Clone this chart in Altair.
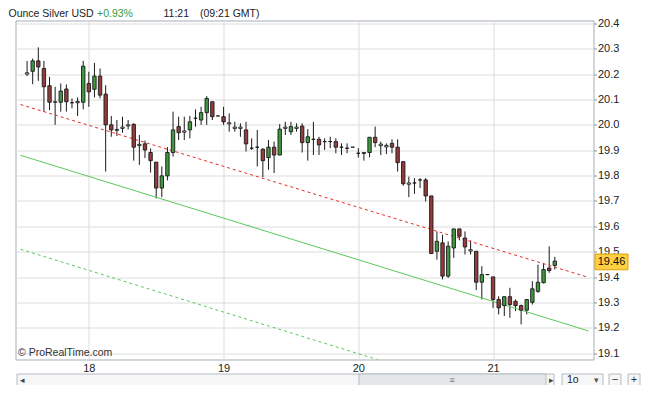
import altair as alt
import pandas as pd

# ---------------- data ----------------
hours = list(range(-11, 84))  # hourly candles, 0 = start of day 18

opens = [20.205, 20.211, 20.252, 20.222, 20.154, 20.091, 20.089, 20.141, 20.087, 20.092,
         20.089, 20.163, 20.140, 20.192, 20.121, 20.000, 19.982, 19.991, 20.000, 20.002,
         19.923, 19.925, 19.891, 19.853, 19.751, 19.799, 19.891, 19.993, 19.976, 19.980,
         20.026, 20.019, 20.048, 20.091, 20.035, 20.032, 20.008, 19.991, 19.991, 19.980,
         19.908, 19.912, 19.904, 19.871, 19.912, 19.881, 19.991, 19.973, 19.991, 19.995,
         19.930, 19.943, 19.943, 19.934, 19.934, 19.934, 19.912, 19.908, 19.912, 19.888,
         19.887, 19.891, 19.951, 19.924, 19.919, 19.927, 19.912, 19.855, 19.771, 19.771,
         19.783, 19.783, 19.720, 19.502, 19.535, 19.404, 19.515, 19.590, 19.554, 19.508,
         19.502, 19.380, 19.410, 19.401, 19.312, 19.288, 19.323, 19.305, 19.288, 19.270,
         19.301, 19.344, 19.378, 19.436, 19.446]
highs = [20.252, 20.261, 20.305, 20.252, 20.189, 20.150, 20.163, 20.159, 20.104, 20.108,
         20.252, 20.209, 20.244, 20.222, 20.156, 20.035, 20.019, 20.032, 20.019, 20.006,
         19.960, 19.938, 19.907, 19.853, 19.836, 19.912, 20.052, 20.032, 20.032, 20.035,
         20.061, 20.071, 20.113, 20.091, 20.035, 20.071, 20.045, 20.012, 20.006, 20.012,
         19.947, 19.980, 19.908, 19.940, 19.934, 20.003, 20.012, 20.012, 20.006, 20.006,
         19.983, 20.012, 19.953, 19.947, 19.953, 19.947, 19.927, 19.927, 19.912, 19.908,
         19.893, 19.951, 19.993, 19.934, 19.927, 19.943, 19.943, 19.855, 19.796, 19.790,
         19.790, 19.790, 19.720, 19.580, 19.567, 19.541, 19.590, 19.590, 19.580, 19.545,
         19.502, 19.443, 19.410, 19.401, 19.325, 19.323, 19.358, 19.312, 19.292, 19.312,
         19.384, 19.449, 19.456, 19.521, 19.480]
lows = [20.192, 20.160, 20.173, 20.052, 20.058, 20.000, 20.052, 20.052, 20.065, 20.035,
        20.061, 20.071, 20.108, 20.104, 19.816, 19.953, 19.956, 19.969, 19.982, 19.859,
        19.842, 19.869, 19.812, 19.710, 19.715, 19.781, 19.875, 19.940, 19.940, 19.947,
        19.993, 20.000, 20.000, 20.019, 20.035, 20.000, 19.973, 19.973, 19.953, 19.895,
        19.901, 19.836, 19.794, 19.823, 19.810, 19.881, 19.960, 19.960, 19.973, 19.891,
        19.859, 19.881, 19.881, 19.901, 19.908, 19.888, 19.881, 19.888, 19.912, 19.871,
        19.859, 19.872, 19.912, 19.881, 19.885, 19.888, 19.816, 19.760, 19.715, 19.728,
        19.751, 19.698, 19.493, 19.469, 19.391, 19.397, 19.476, 19.545, 19.489, 19.489,
        19.349, 19.312, 19.410, 19.279, 19.253, 19.247, 19.240, 19.266, 19.214, 19.253,
        19.292, 19.338, 19.375, 19.417, 19.430]
closes = [20.200, 20.252, 20.228, 20.150, 20.089, 20.089, 20.133, 20.091, 20.087, 20.087,
          20.231, 20.130, 20.192, 20.117, 20.000, 19.980, 19.978, 19.986, 19.996, 19.912,
          19.918, 19.901, 19.859, 19.751, 19.799, 19.891, 19.980, 19.969, 19.971, 20.012,
          20.026, 20.048, 20.104, 20.032, 20.035, 20.012, 20.004, 19.986, 19.986, 19.925,
          19.908, 19.912, 19.859, 19.912, 19.881, 19.983, 19.986, 19.993, 19.986, 19.930,
          19.953, 19.943, 19.921, 19.934, 19.934, 19.912, 19.912, 19.908, 19.912, 19.888,
          19.891, 19.951, 19.930, 19.918, 19.913, 19.912, 19.851, 19.768, 19.766, 19.771,
          19.783, 19.720, 19.493, 19.541, 19.404, 19.522, 19.590, 19.561, 19.519, 19.503,
          19.380, 19.410, 19.410, 19.312, 19.279, 19.323, 19.292, 19.288, 19.270, 19.312,
          19.354, 19.380, 19.430, 19.426, 19.463]

day_ticks = [0, 24, 48, 72]
day_labels = ["18", "19", "20", "21"]
price_ticks = [19.1, 19.2, 19.3, 19.4, 19.5, 19.6, 19.7, 19.8, 19.9, 20.0, 20.1, 20.2, 20.3, 20.4]
last_price = 19.46

red_trend_h = [-12.17, 89.0]
red_trend_v = [20.080, 19.399]
green_trend_h = [-12.17, 89.0]
green_trend_v = [19.880, 19.188]
green_dash_h = [-12.17, 89.0]
green_dash_v = [19.510, 18.818]

title_parts = ["Ounce Silver USD", "+0.93%", "11:21", "(09:21 GMT)"]
copyright_text = "© ProRealTime.com"

# ---------------- chart ----------------
X_DOMAIN = [-12.17, 89.0]
Y_DOMAIN = [19.0756, 20.4110]
FONT = "Liberation Sans"


def direction(o, c):
    if c - o > 0.0065:
        return "up"
    if o - c > 0.0065:
        return "down"
    return "flat"


df = pd.DataFrame({"h": hours, "open": opens, "high": highs, "low": lows, "close": closes})
df["dir"] = [direction(o, c) for o, c in zip(opens, closes)]

xs = alt.Scale(domain=X_DOMAIN, nice=False, zero=False)
ys = alt.Scale(domain=Y_DOMAIN, nice=False, zero=False)

label_expr = " : ".join(
    f"datum.value == {t} ? '{l}'" for t, l in zip(day_ticks, day_labels)
) + " : ''"

x_axis = alt.Axis(values=day_ticks, labelExpr=label_expr, grid=True, gridColor="#dcdcdc",
                  ticks=False, domain=False, title=None, labelPadding=3, labelFontSize=11,
                  labelFont=FONT, labelColor="#222222")
y_axis = alt.Axis(orient="right", values=price_ticks, format=".1f", grid=True,
                  gridColor="#dcdcdc", tickSize=3, tickColor="#8a96a3", domain=False,
                  title=None, labelPadding=1, labelFontSize=11, labelFont=FONT,
                  labelColor="#222222")

X = lambda f: alt.X(f, scale=xs, axis=x_axis)
Y = lambda f: alt.Y(f, scale=ys, axis=y_axis)

wicks = alt.Chart(df).mark_rule(color="#1a1a1a", strokeWidth=1).encode(
    x=X("h:Q"), y=Y("low:Q"), y2="high:Q",
)

bodies = alt.Chart(df).mark_bar(size=3.4, stroke="#1a1a1a", strokeWidth=0.9).encode(
    x=X("h:Q"), y=Y("open:Q"), y2="close:Q",
    fill=alt.Fill("dir:N", scale=alt.Scale(domain=["up", "down", "flat"],
                                           range=["#3f973f", "#943c3c", "#ffffff"]),
                  legend=None),
)


def trend(h, v, color, dash=None):
    d = pd.DataFrame({"h": h, "low": v})
    kw = dict(color=color, strokeWidth=1, clip=True)
    if dash:
        kw["strokeDash"] = dash
    return alt.Chart(d).mark_line(**kw).encode(x=X("h:Q"), y=Y("low:Q"))


red_line = trend(red_trend_h, red_trend_v, "#e0302a", [3, 3])
green_line = trend(green_trend_h, green_trend_v, "#5cc85c")
green_dash = trend(green_dash_h, green_dash_v, "#5cc85c", [3, 3])

one = pd.DataFrame({"a": [0]})


def text(t, x, y, color="#222222", size=11, align="left", font=FONT):
    return alt.Chart(one).mark_text(text=t, align=align, baseline="middle", fontSize=size,
                                    font=font, color=color).encode(
        x=alt.value(x), y=alt.value(y))


def box(x, x2, y, y2, fill, stroke="#b4bcc6"):
    return alt.Chart(one).mark_rect(fill=fill, stroke=stroke, strokeWidth=1).encode(
        x=alt.value(x), x2=alt.value(x2), y=alt.value(y), y2=alt.value(y2))


TY = -7.0
title_layers = [
    text(title_parts[0], -7.0, TY, size=10.5),
    text(title_parts[1], 81.5, TY, color="#3a9a3a", size=10.5),
    text(title_parts[2], 148.0, TY, size=10.5),
    text(title_parts[3], 184.5, TY, size=10.5),
]

copyright_layer = text(copyright_text, 2.5, 332.5, color="#333333", size=10.5)

pb = pd.DataFrame({"top": [last_price + 0.031], "bot": [last_price - 0.031], "low": [last_price]})
price_box = alt.Chart(pb).mark_rect(fill="#ffd040", stroke="#e0a010", strokeWidth=1).encode(
    x=alt.value(579.5), x2=alt.value(612.5), y=Y("top:Q"), y2="bot:Q",
)
price_text = alt.Chart(pb).mark_text(text=f"{last_price:.2f}", align="center", baseline="middle",
                                     fontSize=11, font=FONT, color="#111111").encode(
    x=alt.value(596), y=Y("low:Q"))

# scrollbar and controls under the chart
SB0, SB1 = 353.5, 365.5
SM = (SB0 + SB1) / 2
ui_layers = [
    box(1.5, 538.5, SB0, SB1, "#f6f6f6"),
    box(343.5, 530.5, SB0, SB1, "#e4e6e8"),
    text("◂", 4.5, SM, color="#444444", size=9),
    text("▸", 533.5, SM, color="#444444", size=9),
    text("≡", 436.5, SM, color="#777777", size=9, align="center"),
    box(546.5, 587.5, SB0, SB1, "#f6f6f6"),
    text("1o", 551.5, SM, color="#222222", size=10.5),
    text("▾", 580.5, SM, color="#555555", size=9, align="center"),
    box(593.5, 605.5, SB0, SB1, "#f6f6f6"),
    text("−", 599.5, SM, color="#333333", size=11, align="center"),
    box(612.5, 624.5, SB0, SB1, "#f6f6f6"),
    text("+", 618.5, SM, color="#333333", size=11, align="center"),
]

chart = alt.layer(
    wicks, green_dash, green_line, red_line, bodies,
    copyright_layer, price_box, price_text, *title_layers, *ui_layers,
).properties(
    width=578, height=339,
    padding={"left": 7.5, "top": 12.5, "right": 58.5, "bottom": 25.5},
    autosize=alt.AutoSizeParams(type="none"),
    background="#ffffff",
).configure_view(
    stroke="#a3adb8", strokeWidth=1,
)

chart.save("out.html", embed_options={"renderer": "svg", "actions": False})
